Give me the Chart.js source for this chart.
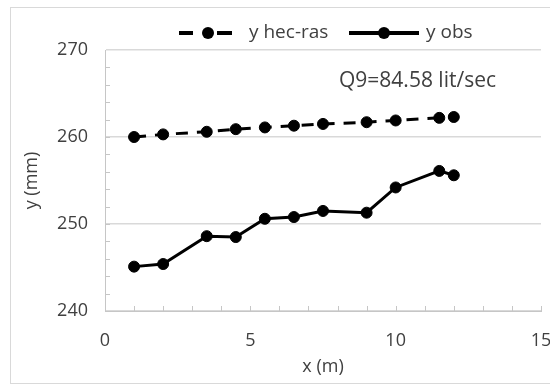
<!DOCTYPE html>
<html lang="en">
<head>
<meta charset="UTF-8">
<title>y hec-ras vs y obs</title>
<script src="https://cdn.jsdelivr.net/npm/chart.js"></script>
<style>
  html, body { margin: 0; padding: 0; background: #fff; }
  #wrap { position: relative; width: 550px; height: 385px; overflow: hidden; }
  #frame { position: absolute; left: 10px; top: 7px; width: 560px; height: 377px;
           border: 1.5px solid #d9d9d9; box-sizing: border-box; pointer-events: none; }
  canvas { position: absolute; left: 0; top: 0; }
</style>
</head>
<body>
<div id="wrap">
  <canvas id="chart" width="550" height="385"></canvas>
  <div id="frame"></div>
</div>
<script>
// distances along the channel (m)
const xStations = [1, 2, 3.5, 4.5, 5.5, 6.5, 7.5, 9, 10, 11.5, 12];
// water depth from HEC-RAS (mm)
const yHecRas = [260.0, 260.3, 260.6, 260.9, 261.1, 261.3, 261.5, 261.7, 261.9, 262.2, 262.3];
// measured water depth (mm)
const yObs = [245.1, 245.4, 248.6, 248.5, 250.6, 250.8, 251.5, 251.3, 254.2, 256.1, 255.6];
const xTicks = [0, 5, 10, 15];
const yTicks = [240, 250, 260, 270];
const flowLabel = 'Q9=84.58 lit/sec';

const FONT = "'Open Sans', sans-serif";
const TEXT = '#404040';
const AXIS = '#c6c6c6';
const GRID = '#d9d9d9';

const toPoints = ys => xStations.map((x, i) => ({ x: x, y: ys[i] }));

// small inside tick marks, legend and the flow note
const extras = {
  id: 'extras',
  afterDraw(chart) {
    const { ctx, chartArea: a, scales: { x, y } } = chart;
    ctx.save();
    ctx.strokeStyle = AXIS;
    ctx.lineWidth = 1;
    ctx.beginPath();
    for (let v = 1; v <= 15; v++) {
      const px = Math.round(x.getPixelForValue(v)) + 0.5;
      ctx.moveTo(px, a.bottom);
      ctx.lineTo(px, a.bottom - 5);
    }
    for (let v = 242; v <= 268; v += 2) {
      const py = Math.round(y.getPixelForValue(v)) + 0.5;
      ctx.moveTo(a.left, py);
      ctx.lineTo(a.left + 5, py);
    }
    ctx.stroke();

    // legend
    ctx.strokeStyle = '#000';
    ctx.fillStyle = '#000';
    ctx.lineWidth = 4;
    const ly = 33;
    ctx.beginPath();
    ctx.moveTo(179, ly); ctx.lineTo(193, ly);
    ctx.moveTo(217, ly); ctx.lineTo(232, ly);
    ctx.moveTo(349, ly); ctx.lineTo(419, ly);
    ctx.stroke();
    ctx.beginPath(); ctx.arc(208, ly, 6, 0, Math.PI * 2); ctx.fill();
    ctx.beginPath(); ctx.arc(384, ly, 6, 0, Math.PI * 2); ctx.fill();

    ctx.fillStyle = TEXT;
    ctx.font = '19px ' + FONT;
    ctx.textBaseline = 'middle';
    ctx.textAlign = 'left';
    ctx.fillText(chart.data.datasets[0].label, 249, ly);
    ctx.fillText(chart.data.datasets[1].label, 426, ly);

    ctx.font = '21px ' + FONT;
    ctx.textBaseline = 'alphabetic';
    ctx.fillText(flowLabel, 339, 87);
    ctx.restore();
  }
};

new Chart(document.getElementById('chart'), {
  type: 'scatter',
  data: {
    datasets: [
      {
        label: 'y hec-ras',
        data: toPoints(yHecRas),
        showLine: true,
        borderColor: '#000',
        backgroundColor: '#000',
        borderWidth: 3,
        borderDash: [12, 9],
        pointRadius: 5.5,
        pointBorderWidth: 1
      },
      {
        label: 'y obs',
        data: toPoints(yObs),
        showLine: true,
        borderColor: '#000',
        backgroundColor: '#000',
        borderWidth: 3,
        pointRadius: 5.5,
        pointBorderWidth: 1
      }
    ]
  },
  options: {
    responsive: false,
    animation: false,
    layout: { padding: { top: 50, right: 9, left: 0, bottom: 0 } },
    plugins: { legend: { display: false }, tooltip: { enabled: false } },
    scales: {
      x: {
        type: 'linear',
        min: 0, max: 15,
        afterBuildTicks: s => { s.ticks = xTicks.map(v => ({ value: v })); },
        afterFit: s => { s.height = 74; s.paddingLeft = 0; s.paddingRight = 0; },
        grid: { drawOnChartArea: false, drawTicks: false },
        border: { color: AXIS, width: 1 },
        ticks: { padding: 19, color: TEXT, font: { family: FONT, size: 18 } },
        title: { display: true, text: 'x (m)', color: TEXT,
                 font: { family: FONT, size: 18 }, padding: { bottom: 7 } }
      },
      y: {
        min: 240, max: 270,
        afterBuildTicks: s => { s.ticks = yTicks.map(v => ({ value: v })); },
        afterFit: s => { s.width = 105; s.paddingTop = 0; s.paddingBottom = 0; },
        grid: { color: GRID, lineWidth: 1.5, drawTicks: false },
        border: { color: AXIS, width: 1 },
        ticks: { padding: 17, color: TEXT, font: { family: FONT, size: 18 } },
        title: { display: true, text: 'y (mm)', color: TEXT,
                 font: { family: FONT, size: 18 }, padding: { top: 21 } }
      }
    }
  },
  plugins: [extras]
});
</script>
</body>
</html>
